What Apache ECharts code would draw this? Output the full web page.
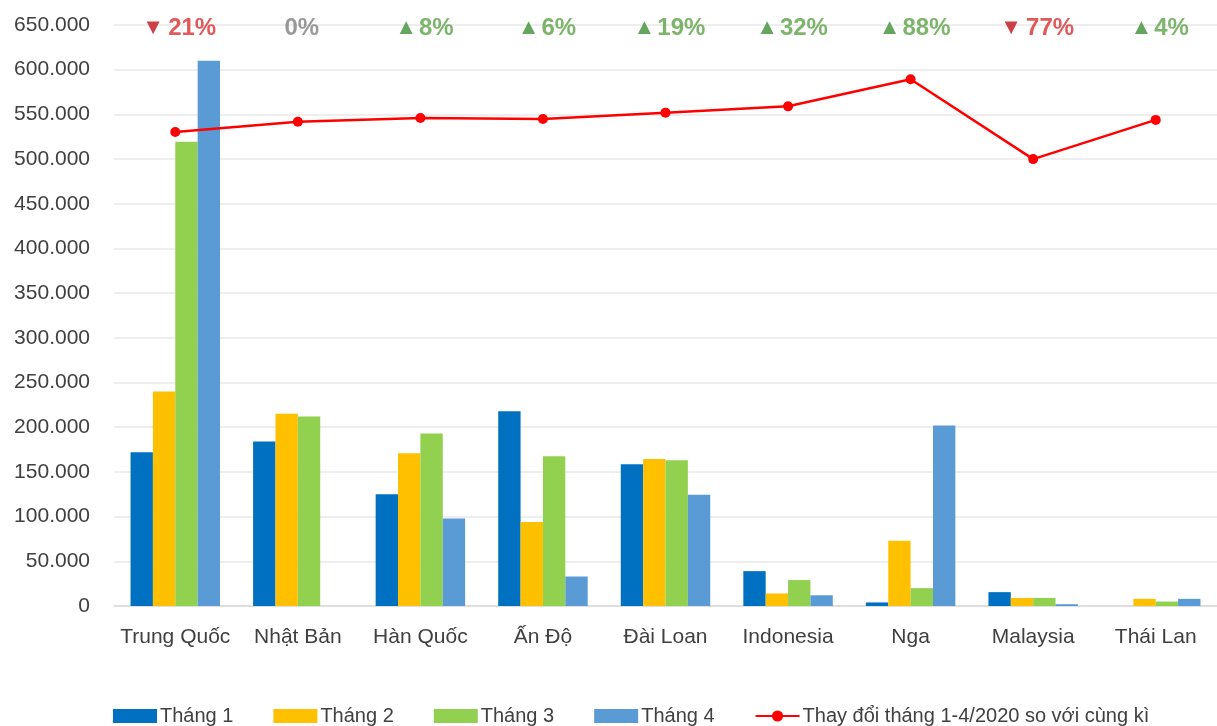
<!DOCTYPE html>
<html>
<head>
<meta charset="utf-8">
<script src="https://cdn.jsdelivr.net/npm/echarts@6/dist/echarts.min.js"></script>
<style>
  html, body { margin: 0; padding: 0; background: #fff; }
  #chart { width: 1217px; height: 726px; }
</style>
</head>
<body>
<div id="chart"></div>
<script>
// Countries on the category axis
const categories = ['Trung Quốc', 'Nhật Bản', 'Hàn Quốc', 'Ấn Độ', 'Đài Loan', 'Indonesia', 'Nga', 'Malaysia', 'Thái Lan'];

// Monthly values per country (units)
const thang1 = [172000, 184000, 125000, 218000, 158500, 39000, 4000, 15500, 0];
const thang2 = [240000, 215000, 171000, 94000, 164500, 14000, 73000, 9000, 8000];
const thang3 = [519500, 212000, 193000, 167500, 163000, 29000, 20000, 9000, 5000];
const thang4 = [610000, 0, 98000, 33000, 124500, 12000, 202000, 2000, 8000];

// Change Jan-Apr 2020 vs same period last year (%)
const changePct = [-21, 0, 8, 6, 19, 32, 88, -77, 4];

const seriesNames = ['Tháng 1', 'Tháng 2', 'Tháng 3', 'Tháng 4', 'Thay đổi tháng 1-4/2020 so với cùng kì'];

const FONT = 'Liberation Sans';
const Y_MAX = 650000;

function fmtThousands(v) {
  return String(v).replace(/\B(?=(\d{3})+(?!\d))/g, '.');
}

function pctLabel(p) {
  if (p > 0) return '{upT|▲}{up|' + Math.abs(p) + '%}';
  if (p < 0) return '{dnT|▼}{dn|' + Math.abs(p) + '%}';
  return '{zero|' + p + '%}';
}

const chart = echarts.init(document.getElementById('chart'), null, { renderer: 'canvas' });

const barColors = ['#0070C0', '#FFC000', '#92D050', '#5B9BD5'];
const barData = [thang1, thang2, thang3, thang4];

const barSeries = barData.map((d, i) => ({
  name: seriesNames[i],
  type: 'bar',
  data: d,
  barGap: '0%',
  barCategoryGap: '27%',
  itemStyle: { color: barColors[i] },
  silent: true
}));

chart.setOption({
  animation: false,
  textStyle: { fontFamily: FONT },
  grid: { left: 114, top: 25, width: 1116, height: 581, containLabel: false },
  legend: {
    data: seriesNames.map((n, i) => (i < 4 ? { name: n, icon: 'rect' } : { name: n })),
    left: 108,
    top: 701,
    itemWidth: 44,
    itemHeight: 14,
    itemGap: 40,
    textStyle: { fontFamily: FONT, fontSize: 20, color: '#404040', padding: [0, 0, 0, -2] }
  },
  xAxis: {
    type: 'category',
    data: categories,
    axisTick: { show: false },
    axisLine: { lineStyle: { color: '#D9D9D9', width: 1.5 } },
    axisLabel: { fontFamily: FONT, fontSize: 21, color: '#404040', margin: 21, interval: 0 }
  },
  yAxis: [
    {
      type: 'value',
      min: 0,
      max: Y_MAX,
      interval: 50000,
      axisLine: { show: false },
      axisTick: { show: false },
      splitLine: { lineStyle: { color: '#E8E8E8', width: 1.5 } },
      axisLabel: {
        fontFamily: FONT, fontSize: 21, color: '#404040', margin: 24,
        formatter: v => fmtThousands(v)
      }
    },
    {
      type: 'value',
      min: -1000,
      max: 200,
      show: false,
      splitLine: { show: false }
    }
  ],
  series: [
    ...barSeries,
    {
      name: seriesNames[4],
      type: 'line',
      yAxisIndex: 1,
      data: changePct,
      symbol: 'circle',
      symbolSize: 10,
      lineStyle: { color: '#FF0000', width: 2.5 },
      itemStyle: { color: '#FF0000' },
      silent: true,
      z: 5
    },
    {
      // Percentage annotations along the top gridline
      name: 'pct-labels',
      type: 'scatter',
      data: changePct.map((p, i) => ({ value: [categories[i], Y_MAX], pct: p })),
      symbolSize: 0,
      silent: true,
      label: {
        show: true,
        position: 'inside',
        offset: [4, 3],
        formatter: params => pctLabel(params.data.pct),
        rich: {
          up: { color: '#5BA346', fontSize: 24, fontWeight: 'bold', fontFamily: FONT },
          upT: { color: '#3F8F35', fontSize: 22, fontFamily: FONT, padding: [0, 2, 0, 0] },
          dn: { color: '#D93030', fontSize: 24, fontWeight: 'bold', fontFamily: FONT },
          dnT: { color: '#C0101A', fontSize: 22, fontFamily: FONT, padding: [0, 4, 0, 0] },
          zero: { color: '#808080', fontSize: 24, fontWeight: 'bold', fontFamily: FONT }
        }
      }
    }
  ]
});
</script>
</body>
</html>
